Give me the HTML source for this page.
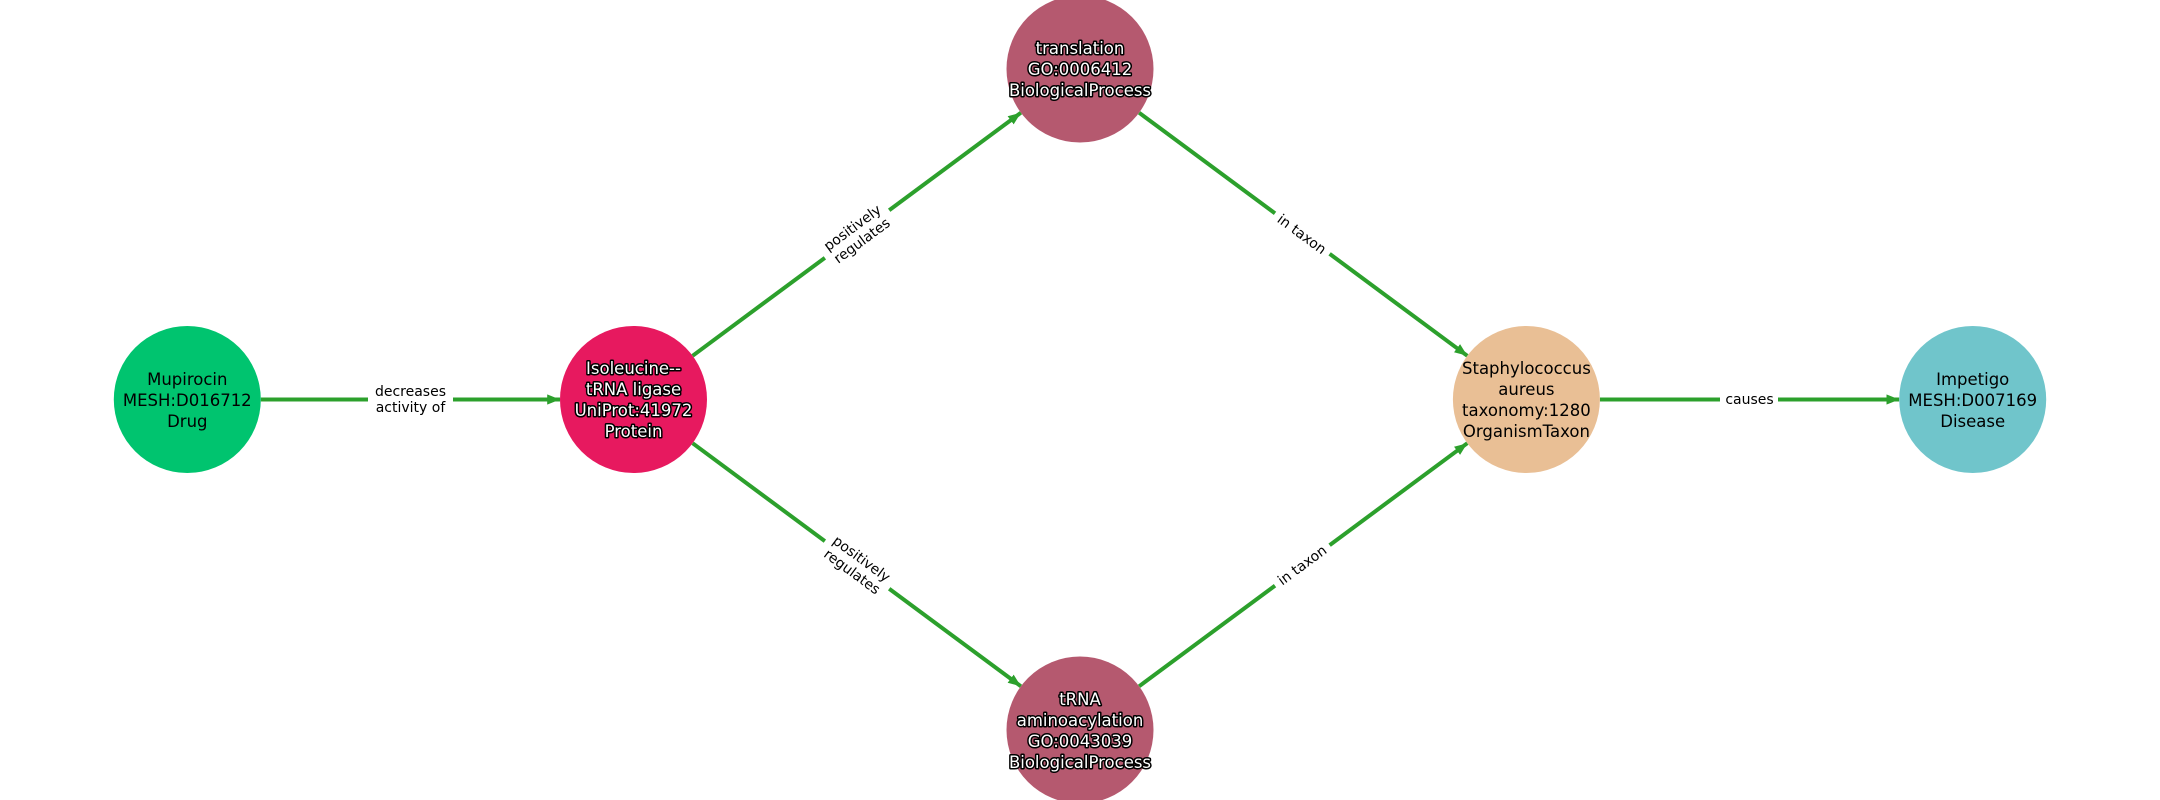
<!DOCTYPE html>
<html><head><meta charset="utf-8"><style>
html,body{margin:0;padding:0;background:#fff;}
svg{display:block;}
text{font-family:"DejaVu Sans","Liberation Sans",sans-serif;}
.n{font-size:16.5px;text-anchor:middle;}
.w{fill:#fff;stroke:#000;stroke-width:3px;paint-order:stroke;stroke-linejoin:round;}
.b{fill:#000;}
.l{font-size:14px;text-anchor:middle;fill:#000;}
.e{stroke:#2ca02c;stroke-width:4;fill:none;marker-end:url(#ah);}
</style></head><body>
<svg width="2160" height="800" viewBox="0 0 2160 800" xmlns="http://www.w3.org/2000/svg">
<defs>
<marker id="ah" viewBox="0 0 10 8" refX="10" refY="4" markerWidth="3.2" markerHeight="2.6" orient="auto" markerUnits="strokeWidth">
<path d="M0,0 L10,4 L0,8 Z" fill="#2ca02c"/>
</marker>
</defs>
<line class="e" x1="260.8" y1="399.5" x2="560" y2="399.5"/>
<line class="e" x1="692.6" y1="355.8" x2="1020.9" y2="112.7"/>
<line class="e" x1="692.6" y1="443.2" x2="1020.9" y2="686.3"/>
<line class="e" x1="1139.1" y1="112.7" x2="1467.3" y2="355.8"/>
<line class="e" x1="1139.1" y1="686.3" x2="1467.3" y2="443.2"/>
<line class="e" x1="1599.9" y1="399.5" x2="1899.2" y2="399.5"/>

<rect x="368" y="380" width="85" height="40" fill="#fff"/>
<text class="l" x="410.5" y="396">decreases</text>
<text class="l" x="410.5" y="412">activity of</text>

<g transform="translate(857,234) rotate(-36.4)">
<rect x="-40" y="-20" width="80" height="40" fill="#fff"/>
<text class="l" x="0" y="-3">positively</text><text class="l" x="0" y="13">regulates</text></g>
<g transform="translate(857,565) rotate(36.4)">
<rect x="-40" y="-20" width="80" height="40" fill="#fff"/>
<text class="l" x="0" y="-3">positively</text><text class="l" x="0" y="13">regulates</text></g>
<g transform="translate(1302,234) rotate(36.4)">
<rect x="-34" y="-11" width="68" height="22" fill="#fff"/>
<text class="l" x="0" y="5">in taxon</text></g>
<g transform="translate(1302,565) rotate(-36.4)">
<rect x="-34" y="-11" width="68" height="22" fill="#fff"/>
<text class="l" x="0" y="5">in taxon</text></g>
<rect x="1720" y="388" width="58" height="22" fill="#fff"/>
<text class="l" x="1749.5" y="404">causes</text>

<circle cx="187.3" cy="399.5" r="73.5" fill="#00c46f"/>
<text class="n b" x="187.3" y="385">Mupirocin</text>
<text class="n b" x="187.3" y="406">MESH:D016712</text>
<text class="n b" x="187.3" y="427">Drug</text>

<circle cx="633.5" cy="399.5" r="73.5" fill="#e7195f"/>
<text class="n w" x="633.5" y="374">Isoleucine--</text>
<text class="n w" x="633.5" y="395">tRNA ligase</text>
<text class="n w" x="633.5" y="416">UniProt:41972</text>
<text class="n w" x="633.5" y="437">Protein</text>

<circle cx="1080" cy="69" r="73.5" fill="#b5596f"/>
<text class="n w" x="1080" y="54">translation</text>
<text class="n w" x="1080" y="75">GO:0006412</text>
<text class="n w" x="1080" y="96">BiologicalProcess</text>

<circle cx="1080" cy="730" r="73.5" fill="#b5596f"/>
<text class="n w" x="1080" y="705">tRNA</text>
<text class="n w" x="1080" y="726">aminoacylation</text>
<text class="n w" x="1080" y="747">GO:0043039</text>
<text class="n w" x="1080" y="768">BiologicalProcess</text>

<circle cx="1526.4" cy="399.5" r="73.5" fill="#e9bf95"/>
<text class="n b" x="1526.4" y="374">Staphylococcus</text>
<text class="n b" x="1526.4" y="395">aureus</text>
<text class="n b" x="1526.4" y="416">taxonomy:1280</text>
<text class="n b" x="1526.4" y="437">OrganismTaxon</text>

<circle cx="1972.7" cy="399.5" r="73.5" fill="#70c5cb"/>
<text class="n b" x="1972.7" y="385">Impetigo</text>
<text class="n b" x="1972.7" y="406">MESH:D007169</text>
<text class="n b" x="1972.7" y="427">Disease</text>
</svg>
</body></html>
